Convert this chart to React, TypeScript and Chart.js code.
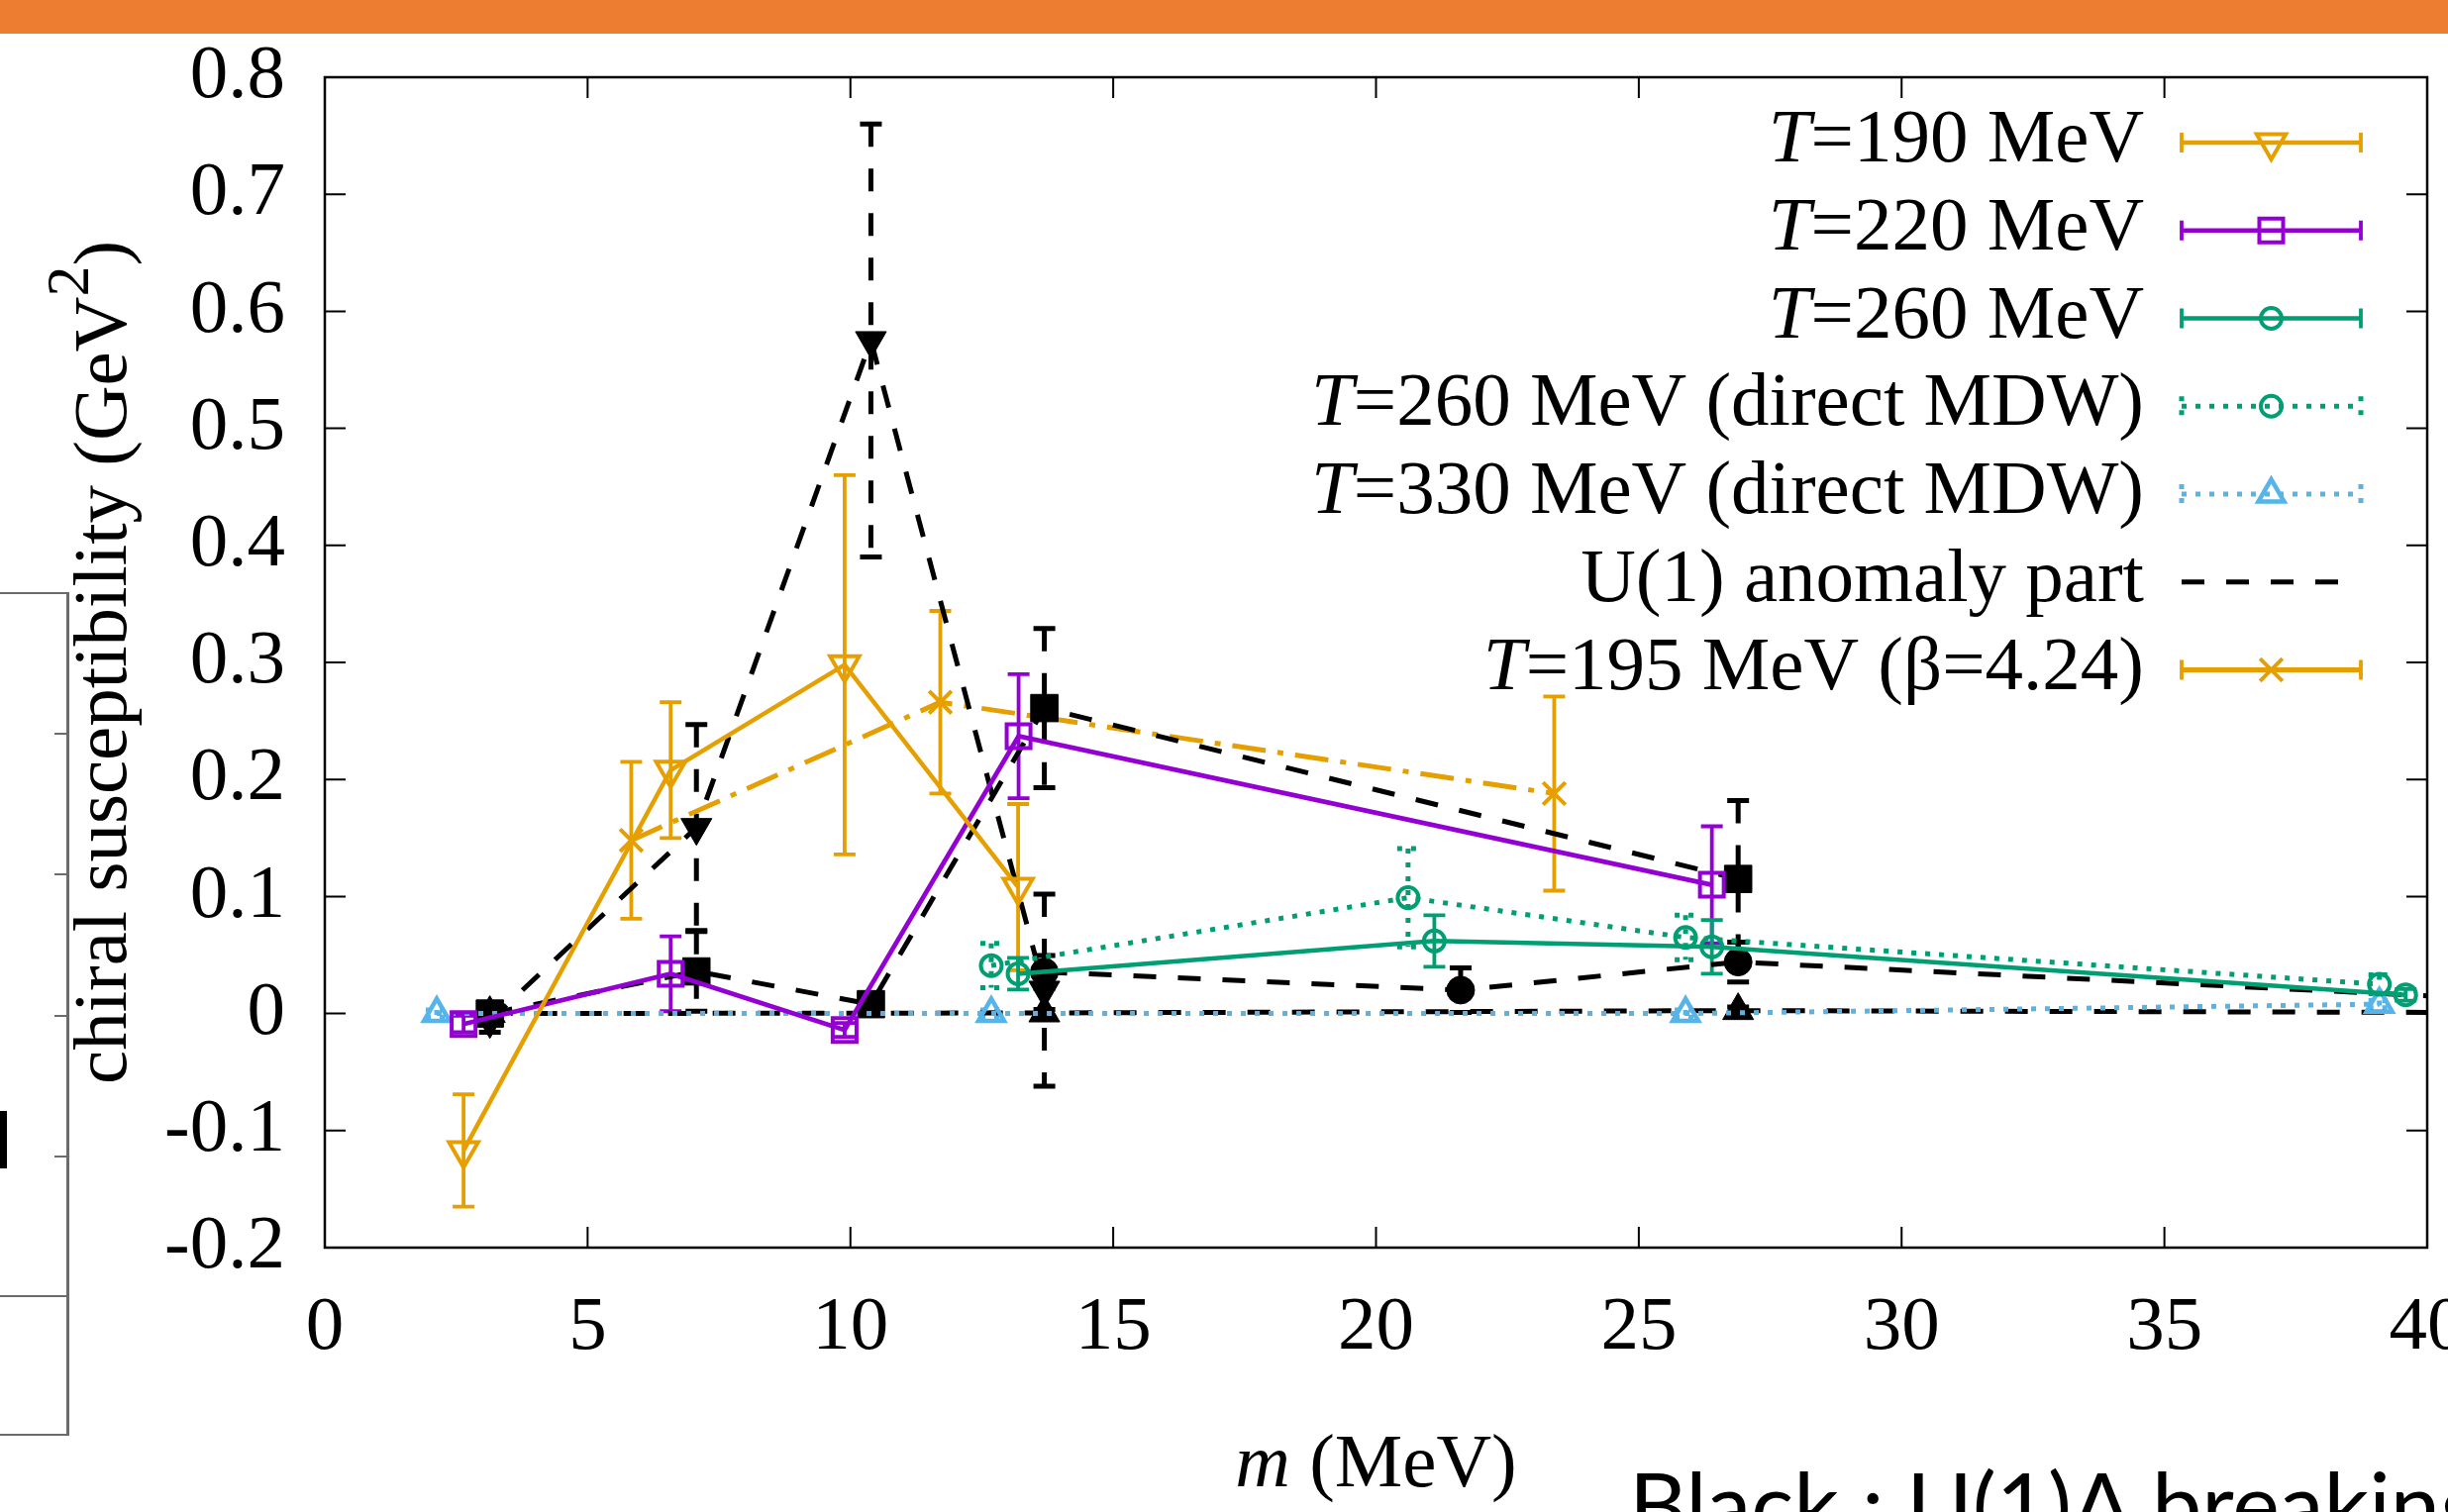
import React, { useEffect, useRef } from "react";
import { Chart, registerables } from "chart.js";

Chart.register(...registerables);

const W = 2472;
const H = 1527;
const SERIF = '"Liberation Serif", "Times New Roman", Times, serif';
const FS = 77;

// ---- axes ----
const X_MIN = 0;
const X_MAX = 40;
const X_STEP = 5;
const Y_MIN = -0.2;
const Y_MAX = 0.8;
const Y_STEP = 0.1;

// ---- data (m in MeV, chiral susceptibility in GeV^2, symmetric errors) ----
const m190 = [2.64, 6.58, 9.89, 13.19];
const chi190 = [-0.117, 0.208, 0.298, 0.108];
const err190 = [0.048, 0.058, 0.162, 0.071];

const m220 = [2.64, 6.58, 9.89, 13.2, 26.39];
const chi220 = [-0.009, 0.034, -0.014, 0.237, 0.11];
const err220 = [0.007, 0.032, 0.006, 0.053, 0.05];

const m260 = [13.19, 21.11, 26.39, 39.59];
const chi260 = [0.034, 0.062, 0.057, 0.016];
const err260 = [0.0135, 0.022, 0.023, 0.005];

const m260mdw = [12.68, 20.61, 25.89, 39.09];
const chi260mdw = [0.041, 0.099, 0.065, 0.025];
const err260mdw = [0.019, 0.042, 0.019, 0.008];

const m330mdw = [2.13, 12.68, 25.89, 39.09];
const chi330mdw = [0.0, 0.0, 0.0, 0.008];
const err330mdw = [0.003, 0.003, 0.003, 0.003];

const m195 = [5.83, 11.71, 23.39];
const chi195 = [0.148, 0.266, 0.188];
const err195 = [0.067, 0.078, 0.083];

// U(1) anomaly part (black)
const mA190 = [3.14, 7.07, 10.39, 13.69];
const chiA190 = [-0.006, 0.159, 0.575, 0.02];
const errA190 = [0.01, 0.088, 0.185, 0.082];

const mA220 = [3.14, 7.07, 10.39, 13.69, 26.89];
const chiA220 = [0.0, 0.036, 0.008, 0.261, 0.115];
const errA220 = [0.005, 0.034, 0.005, 0.068, 0.067];

const mA260 = [13.69, 21.61, 26.89, 40.06];
const chiA260 = [0.0355, 0.02, 0.044, 0.015];
const errA260 = [0.014, 0.019, 0.017, 0.005];

const mA330 = [3.14, 13.69, 26.89, 40.06];
const chiA330 = [0.0, 0.0005, 0.0025, 0.001];
const errA330 = [0.003, 0.003, 0.003, 0.003];

// ---- styles ----
const ORANGE = "#E69F00";
const PURPLE = "#9400D3";
const GREEN = "#009E73";
const SKY = "#56B4E9";
const BLACK = "#000000";

const DOT = [5, 9];
const DASH = [23, 22];
const DASHDOT = [34, 12, 6, 12];

type Style = {
  color: string;
  lw: number;
  dash: number[];
  ew: number;
  edash: number[];
  point: string;
  rot: number;
  r: number;
  filled: boolean;
  pbw: number;
};

const S190: Style = { color: ORANGE, lw: 4.5, dash: [], ew: 3.8, edash: [], point: "triangle", rot: 180, r: 17, filled: false, pbw: 4 };
const S220: Style = { color: PURPLE, lw: 4.7, dash: [], ew: 3.8, edash: [], point: "rect", rot: 0, r: 17, filled: false, pbw: 4 };
const S260: Style = { color: GREEN, lw: 4.5, dash: [], ew: 3.8, edash: [], point: "circle", rot: 0, r: 10.5, filled: false, pbw: 4 };
const S260M: Style = { color: GREEN, lw: 5, dash: DOT, ew: 5, edash: DOT, point: "circle", rot: 0, r: 10.5, filled: false, pbw: 4 };
const S330M: Style = { color: SKY, lw: 5, dash: DOT, ew: 5, edash: DOT, point: "triangle", rot: 0, r: 15, filled: false, pbw: 4.5 };
const S195: Style = { color: ORANGE, lw: 5, dash: DASHDOT, ew: 3.8, edash: [], point: "crossRot", rot: 0, r: 16, filled: false, pbw: 4 };
const SA190: Style = { color: BLACK, lw: 5, dash: DASH, ew: 5, edash: DASH, point: "triangle", rot: 180, r: 18, filled: true, pbw: 1 };
const SA220: Style = { color: BLACK, lw: 5, dash: DASH, ew: 5, edash: DASH, point: "rect", rot: 0, r: 19.5, filled: true, pbw: 1 };
const SA260: Style = { color: BLACK, lw: 5, dash: DASH, ew: 5, edash: DASH, point: "circle", rot: 0, r: 14, filled: true, pbw: 1 };
const SA330: Style = { color: BLACK, lw: 5, dash: DASH, ew: 5, edash: DASH, point: "triangle", rot: 0, r: 18, filled: true, pbw: 1 };

function series(label: string, xs: number[], ys: number[], errs: number[], st: Style) {
  return {
    label,
    data: xs.map((x, i) => ({ x, y: ys[i] })),
    errors: errs,
    errStyle: st,
    showLine: true,
    tension: 0,
    borderColor: st.color,
    backgroundColor: st.filled ? st.color : "rgba(0,0,0,0)",
    borderWidth: st.lw,
    borderDash: st.dash,
    pointStyle: st.point,
    pointRotation: st.rot,
    pointRadius: (c: any) => (c.raw && (c.raw.x > X_MAX || c.raw.x < X_MIN) ? 0 : st.r),
    pointHoverRadius: st.r,
    pointBorderWidth: st.pbw,
    pointBorderColor: st.color,
    pointBackgroundColor: st.filled ? st.color : "rgba(0,0,0,0)",
    clip: 0,
  };
}

// ---- legend ----
type Part = [string, boolean];
const LEGEND: { text: Part[]; st: Style; caps: boolean; marker: boolean; solid?: boolean }[] = [
  { text: [["T", true], ["=190 MeV", false]], st: S190, caps: true, marker: true },
  { text: [["T", true], ["=220 MeV", false]], st: S220, caps: true, marker: true },
  { text: [["T", true], ["=260 MeV", false]], st: S260, caps: true, marker: true },
  { text: [["T", true], ["=260 MeV (direct MDW)", false]], st: S260M, caps: true, marker: true },
  { text: [["T", true], ["=330 MeV (direct MDW)", false]], st: S330M, caps: true, marker: true },
  { text: [["U(1) anomaly part", false]], st: SA220, caps: false, marker: false },
  { text: [["T", true], ["=195 MeV (\u03B2=4.24)", false]], st: S195, caps: true, marker: true, solid: true },
];

function drawMarker(ctx: CanvasRenderingContext2D, st: Style, x: number, y: number) {
  const r = st.r;
  ctx.save();
  ctx.translate(x, y);
  ctx.rotate((st.rot * Math.PI) / 180);
  ctx.beginPath();
  if (st.point === "circle") {
    ctx.arc(0, 0, r, 0, Math.PI * 2);
  } else if (st.point === "rect") {
    const s = r * Math.SQRT1_2;
    ctx.rect(-s, -s, 2 * s, 2 * s);
  } else if (st.point === "triangle") {
    for (let k = 0; k < 3; k++) {
      const a = (k * 2 * Math.PI) / 3;
      if (k === 0) ctx.moveTo(Math.sin(a) * r, -Math.cos(a) * r);
      else ctx.lineTo(Math.sin(a) * r, -Math.cos(a) * r);
    }
    ctx.closePath();
  } else if (st.point === "crossRot") {
    const d = r * Math.SQRT1_2;
    ctx.moveTo(-d, -d);
    ctx.lineTo(d, d);
    ctx.moveTo(d, -d);
    ctx.lineTo(-d, d);
  }
  ctx.setLineDash([]);
  ctx.lineWidth = st.pbw;
  ctx.strokeStyle = st.color;
  if (st.filled && st.point !== "crossRot") {
    ctx.fillStyle = st.color;
    ctx.fill();
  }
  ctx.stroke();
  ctx.restore();
}

function richWidth(ctx: CanvasRenderingContext2D, parts: Part[], size: number) {
  let w = 0;
  for (const [t, it] of parts) {
    ctx.font = `${it ? "italic " : ""}${size}px ${SERIF}`;
    w += ctx.measureText(t).width;
  }
  return w;
}

function drawRich(ctx: CanvasRenderingContext2D, parts: Part[], x: number, y: number, size: number) {
  ctx.textAlign = "left";
  ctx.textBaseline = "alphabetic";
  for (const [t, it] of parts) {
    ctx.font = `${it ? "italic " : ""}${size}px ${SERIF}`;
    ctx.fillText(t, x, y);
    x += ctx.measureText(t).width;
  }
}

const CAP = 11;

const errorBarPlugin = {
  id: "errorBars",
  beforeDatasetsDraw(chart: any) {
    const { ctx, chartArea: a, scales } = chart;
    const xs = scales.x;
    const ys = scales.y;
    ctx.save();
    ctx.beginPath();
    ctx.rect(a.left, a.top, a.right - a.left, a.bottom - a.top);
    ctx.clip();
    chart.data.datasets.forEach((d: any) => {
      if (!d.errors) return;
      const st: Style = d.errStyle;
      ctx.strokeStyle = st.color;
      ctx.lineWidth = st.ew;
      ctx.setLineDash(st.edash);
      d.data.forEach((p: any, i: number) => {
        const e = d.errors[i];
        if (!e || p.x > X_MAX) return;
        const px = xs.getPixelForValue(p.x);
        const y1 = ys.getPixelForValue(p.y + e);
        const y2 = ys.getPixelForValue(p.y - e);
        ctx.beginPath();
        ctx.moveTo(px, y1);
        ctx.lineTo(px, y2);
        ctx.moveTo(px - CAP, y1);
        ctx.lineTo(px + CAP, y1);
        ctx.moveTo(px - CAP, y2);
        ctx.lineTo(px + CAP, y2);
        ctx.stroke();
      });
    });
    ctx.restore();
  },
};

const framePlugin = {
  id: "frame",
  beforeDatasetsDraw(chart: any) {
    const { ctx, chartArea: a, scales } = chart;
    const TL = 21;
    ctx.save();
    ctx.setLineDash([]);
    ctx.strokeStyle = "#000";
    ctx.lineWidth = 2;
    ctx.beginPath();
    scales.x.ticks.forEach((t: any) => {
      const px = scales.x.getPixelForValue(t.value);
      if (px <= a.left + 1 || px >= a.right - 1) return;
      ctx.moveTo(px, a.bottom);
      ctx.lineTo(px, a.bottom - TL);
      ctx.moveTo(px, a.top);
      ctx.lineTo(px, a.top + TL);
    });
    scales.y.ticks.forEach((t: any) => {
      const py = scales.y.getPixelForValue(t.value);
      if (py <= a.top + 1 || py >= a.bottom - 1) return;
      ctx.moveTo(a.left, py);
      ctx.lineTo(a.left + TL, py);
      ctx.moveTo(a.right, py);
      ctx.lineTo(a.right - TL, py);
    });
    ctx.stroke();
    ctx.lineWidth = 2.5;
    ctx.strokeRect(a.left, a.top, a.right - a.left, a.bottom - a.top);
    ctx.restore();
  },
};

const LEG_TEXT_RIGHT = 2165;
const LEG_X0 = 2203;
const LEG_X1 = 2384;
const LEG_Y0 = 144;
const LEG_DY = 88.75;

const annotationPlugin = {
  id: "annotations",
  afterDraw(chart: any) {
    const { ctx, chartArea: a } = chart;
    ctx.save();
    ctx.fillStyle = "#000";

    // legend
    LEGEND.forEach((row, i) => {
      const y = LEG_Y0 + i * LEG_DY;
      const w = richWidth(ctx, row.text, FS);
      ctx.fillStyle = "#000";
      drawRich(ctx, row.text, LEG_TEXT_RIGHT - w, y + 19, FS);
      const st = row.st;
      ctx.strokeStyle = st.color;
      ctx.lineWidth = st.lw;
      ctx.setLineDash(row.solid ? [] : st.dash);
      ctx.beginPath();
      const xe = row.caps ? LEG_X1 : 2370;
      ctx.moveTo(LEG_X0, y);
      ctx.lineTo(xe, y);
      ctx.stroke();
      if (row.caps) {
        ctx.lineWidth = st.ew;
        ctx.setLineDash(row.solid ? [] : st.edash);
        ctx.beginPath();
        ctx.moveTo(LEG_X0, y - 10);
        ctx.lineTo(LEG_X0, y + 10);
        ctx.moveTo(LEG_X1, y - 10);
        ctx.lineTo(LEG_X1, y + 10);
        ctx.stroke();
      }
      if (row.marker) drawMarker(ctx, st, (LEG_X0 + LEG_X1) / 2, y);
    });

    // y title
    ctx.setLineDash([]);
    ctx.fillStyle = "#000";
    ctx.save();
    ctx.translate(127, (a.top + a.bottom) / 2);
    ctx.rotate(-Math.PI / 2);
    const main = "chiral susceptibility (GeV";
    const sup = "2";
    const close = ")";
    const SUP = 62;
    ctx.font = `${FS}px ${SERIF}`;
    const w1 = ctx.measureText(main).width;
    const w3 = ctx.measureText(close).width;
    ctx.font = `${SUP}px ${SERIF}`;
    const w2 = ctx.measureText(sup).width;
    let x = -(w1 + w2 + w3) / 2;
    ctx.textAlign = "left";
    ctx.textBaseline = "alphabetic";
    ctx.font = `${FS}px ${SERIF}`;
    ctx.fillText(main, x, 0);
    x += w1;
    ctx.font = `${SUP}px ${SERIF}`;
    ctx.fillText(sup, x, -38);
    x += w2;
    ctx.font = `${FS}px ${SERIF}`;
    ctx.fillText(close, x, 0);
    ctx.restore();

    // x title
    const xt: Part[] = [["m", true], [" (MeV)", false]];
    const xw = richWidth(ctx, xt, FS);
    drawRich(ctx, xt, (a.left + a.right) / 2 - xw / 2, 1501, FS);

    ctx.restore();
  },
};

function fmtY(v: number) {
  const n = Math.round(v * 10) / 10;
  if (n === 0) return "0";
  return n.toFixed(1);
}

export default function App() {
  const ref = useRef<HTMLCanvasElement>(null);

  useEffect(() => {
    const canvas = ref.current;
    if (!canvas) return;
    const datasets: any[] = [
      series("T=190 MeV", m190, chi190, err190, S190),
      series("T=220 MeV", m220, chi220, err220, S220),
      series("T=260 MeV", m260, chi260, err260, S260),
      series("T=260 MeV (direct MDW)", m260mdw, chi260mdw, err260mdw, S260M),
      series("T=330 MeV (direct MDW)", m330mdw, chi330mdw, err330mdw, S330M),
      series("U(1) anomaly part (T=190)", mA190, chiA190, errA190, SA190),
      series("U(1) anomaly part (T=220)", mA220, chiA220, errA220, SA220),
      series("U(1) anomaly part (T=260)", mA260, chiA260, errA260, SA260),
      series("U(1) anomaly part (T=330)", mA330, chiA330, errA330, SA330),
      series("T=195 MeV (β=4.24)", m195, chi195, err195, S195),
    ];
    const chart = new Chart(canvas, {
      type: "scatter",
      data: { datasets },
      options: {
        responsive: false,
        maintainAspectRatio: false,
        devicePixelRatio: 1,
        animation: false,
        events: [],
        layout: { padding: { left: 0, top: 78, right: 12, bottom: 0 } },
        plugins: {
          legend: { display: false },
          tooltip: { enabled: false },
          title: { display: false },
        },
        scales: {
          x: {
            type: "linear",
            min: X_MIN,
            max: X_MAX,
            ticks: {
              stepSize: X_STEP,
              color: "#000",
              font: { family: SERIF, size: FS },
              padding: 36,
              maxRotation: 0,
              autoSkip: false,
            },
            grid: { display: false, drawTicks: false },
            border: { display: false },
            afterFit: (s: any) => {
              s.height = 267;
              s.paddingLeft = 0;
              s.paddingRight = 0;
            },
          },
          y: {
            type: "linear",
            min: Y_MIN,
            max: Y_MAX,
            ticks: {
              stepSize: Y_STEP,
              color: "#000",
              font: { family: SERIF, size: FS },
              padding: 40,
              callback: (v: any) => fmtY(Number(v)),
            },
            grid: { display: false, drawTicks: false },
            border: { display: false },
            afterFit: (s: any) => {
              s.width = 328;
              s.paddingTop = 0;
              s.paddingBottom = 0;
            },
          },
        },
      } as any,
      plugins: [framePlugin, errorBarPlugin, annotationPlugin],
    });
    return () => chart.destroy();
  }, []);

  const line = (style: React.CSSProperties) => (
    <div style={{ position: "absolute", background: "#6b6b6b", ...style }} />
  );

  return (
    <div
      style={{
        position: "fixed",
        left: 0,
        top: 0,
        width: W,
        height: H,
        background: "#ffffff",
        overflow: "hidden",
      }}
    >
      <div style={{ position: "absolute", left: 0, top: 0, width: W, height: 34, background: "#ED7D31" }} />
      {line({ left: 67, top: 598, width: 2.5, height: 852 })}
      {line({ left: 0, top: 598, width: 69, height: 2 })}
      {line({ left: 0, top: 1308, width: 69, height: 2 })}
      {line({ left: 0, top: 1448, width: 69, height: 2 })}
      {line({ left: 55, top: 740, width: 14, height: 2 })}
      {line({ left: 55, top: 882, width: 14, height: 2 })}
      {line({ left: 55, top: 1025, width: 14, height: 2 })}
      {line({ left: 55, top: 1167, width: 14, height: 2 })}
      <div style={{ position: "absolute", left: 0, top: 1122, width: 7, height: 58, background: "#000" }} />
      <canvas
        ref={ref}
        width={W}
        height={H}
        style={{ position: "absolute", left: 0, top: 0, width: W, height: H }}
      />
      <div
        style={{
          position: "absolute",
          left: 1645,
          top: 1472,
          fontFamily: "Lato, Carlito, Calibri, sans-serif",
          fontSize: 90,
          lineHeight: 1,
          whiteSpace: "nowrap",
          color: "#000",
        }}
      >
        Black : U(1)A breaking
      </div>
    </div>
  );
}
